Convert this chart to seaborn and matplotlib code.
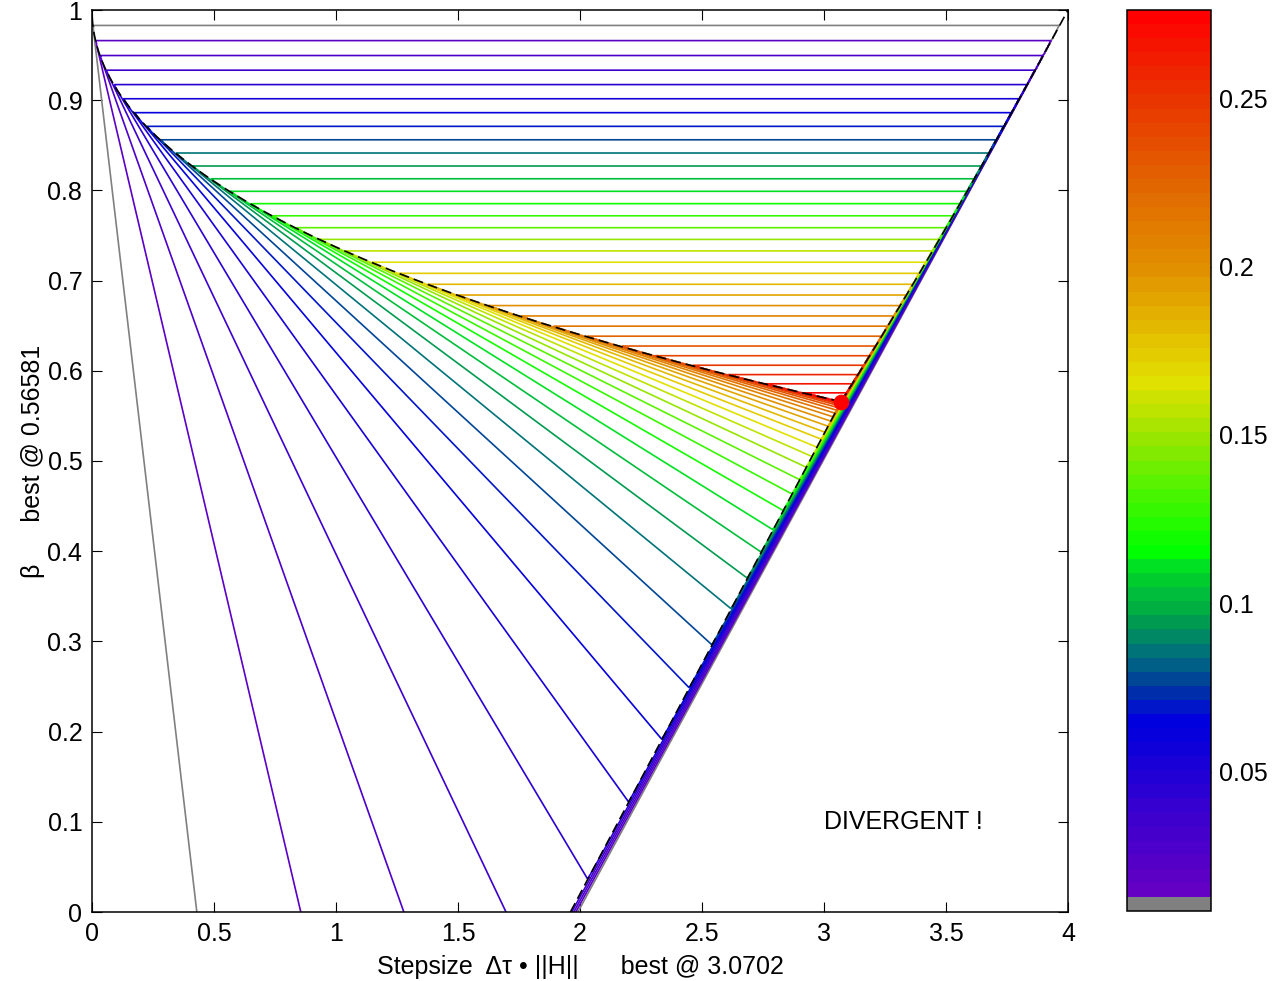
import numpy as np
import matplotlib
matplotlib.use("Agg")
import matplotlib.pyplot as plt
from matplotlib.colors import ListedColormap, Normalize
from matplotlib.cm import ScalarMappable
import seaborn as sns
import pandas as pd

# ---------------- data ----------------
mu_over_L = 0.02            # spectrum ratio of H (gives best @ 3.0702 / 0.56581)
best_step = 3.0702
best_beta = 0.56581
level_first = 0.00863       # lowest contour level (grey)
level_last = 0.2762         # highest contour level (red)
n_levels = 32

x_ticks = [0, 0.5, 1, 1.5, 2, 2.5, 3, 3.5, 4]
x_tick_labels = ["0", "0.5", "1", "1.5", "2", "2.5", "3", "3.5", "4"]
y_ticks = [0, 0.1, 0.2, 0.3, 0.4, 0.5, 0.6, 0.7, 0.8, 0.9, 1.0]
y_tick_labels = ["0", "0.1", "0.2", "0.3", "0.4", "0.5", "0.6", "0.7", "0.8", "0.9", "1"]
cbar_ticks = [0.05, 0.1, 0.15, 0.2, 0.25]
cbar_tick_labels = ["0.05", "0.1", "0.15", "0.2", "0.25"]

# colormap (64 bands): anchor band index -> rgb
cmap_anchor_idx = [1, 6, 12, 13, 14, 15, 16, 17, 18, 19, 20, 21, 22, 23, 24, 25,
                   30, 33, 37, 40, 45, 50, 55, 58, 61, 63]
cmap_anchor_rgb = [(100, 0, 195), (62, 0, 205), (5, 0, 220), (0, 0, 222), (0, 22, 200),
                   (0, 45, 170), (0, 70, 150), (0, 95, 135), (0, 115, 120), (0, 135, 100),
                   (0, 155, 80), (0, 175, 65), (0, 190, 60), (0, 205, 45), (0, 225, 35),
                   (0, 255, 0), (90, 242, 0), (150, 230, 0), (225, 225, 0), (228, 195, 0),
                   (225, 145, 0), (225, 110, 0), (230, 70, 0), (235, 45, 0), (245, 20, 0),
                   (255, 0, 0)]
grey_band = (128, 128, 128)

x_label = "Stepsize  \u0394\u03c4 \u2022 ||H||      best @ 3.0702"
y_label = "\u03b2      best @ 0.56581"
note_text = "DIVERGENT !"

# ---------------- build colormap ----------------
idx = np.arange(1, 64)
rgb = np.array(cmap_anchor_rgb, dtype=float)
cols = np.stack([np.interp(idx, cmap_anchor_idx, rgb[:, c]) for c in range(3)], axis=1)
cols = np.vstack([np.array(grey_band, dtype=float)[None, :], cols]) / 255.0
cmap = ListedColormap(cols)
norm = Normalize(vmin=level_first, vmax=level_last)
levels = np.linspace(level_first, level_last, n_levels)

# ---------------- field: asymptotic rate of heavy-ball iteration ----------------
def spectral_radius(x, b, s):
    c = 1.0 + b - x * s
    disc = c * c - 4.0 * b
    real = (np.abs(c) + np.sqrt(np.maximum(disc, 0.0))) / 2.0
    return np.where(disc < 0, np.sqrt(b), real)

xs = np.linspace(0, 4, 1201)
bs = np.linspace(0, 1, 901)
X, B = np.meshgrid(xs, bs)
rho = np.maximum(spectral_radius(X, B, mu_over_L), spectral_radius(X, B, 1.0))
Z = np.maximum(-np.log(np.maximum(rho, 1e-12)), 0.0)

# ridge / plateau boundary (dashed)
r = mu_over_L
b_up = np.linspace(best_beta, 1.0, 300)
left_x = (1 - np.sqrt(b_up)) ** 2 / r
right_x = (1 + np.sqrt(b_up)) ** 2
b_lo = np.linspace(0.0, best_beta, 300)
kap = (1 - r) / (1 + r)
q = (kap * (1 + b_lo) + np.sqrt(np.maximum(kap ** 2 * (1 + b_lo) ** 2 - 4 * b_lo, 0))) / 2
low_x = (1 + q) * (1 + b_lo / q)
ridge_low = pd.DataFrame({"x": low_x, "b": b_lo})

# ---------------- figure ----------------
sns.set_theme(style="white")
plt.rcParams["font.family"] = ["Liberation Sans", "DejaVu Sans"]
plt.rcParams["font.size"] = 18
plt.rcParams["text.color"] = "black"
plt.rcParams["axes.labelcolor"] = "black"
plt.rcParams["xtick.color"] = "black"
plt.rcParams["ytick.color"] = "black"

FS = 18
W, H = 1275, 981
fig = plt.figure(figsize=(W / 100, H / 100), dpi=100)
ax = fig.add_axes([92 / W, (H - 912) / H, 976 / W, 902 / H])
cax = fig.add_axes([1127 / W, (H - 911) / H, 84 / W, 901 / H])

ax.contour(X, B, Z, levels=levels, cmap=cmap, norm=norm, linewidths=1.2, zorder=2)

# dashed lines: plateau boundaries and ridge
ax.plot(left_x, b_up, color="black", lw=1.2, dashes=(6, 3), zorder=3)
ax.plot(right_x, b_up, color="black", lw=1.2, dashes=(6, 3), zorder=3)
sns.lineplot(data=ridge_low, x="x", y="b", estimator=None, sort=False, ax=ax,
             color="black", lw=1.2, zorder=3).lines[-1].set_dashes((6, 3))

sns.scatterplot(x=[best_step], y=[best_beta], ax=ax, color="red", s=110,
                edgecolor="red", zorder=4, legend=False)

ax.text(3.0, 0.1, note_text, ha="left", va="center", fontsize=FS, color="black")

ax.set_xlim(0, 4)
ax.set_ylim(0, 1)
ax.set_xticks(x_ticks)
ax.set_xticklabels(x_tick_labels)
ax.set_yticks(y_ticks)
ax.set_yticklabels(y_tick_labels)
ax.tick_params(direction="in", length=7, width=0.8, top=True, right=True,
               bottom=True, left=True, labelsize=FS, pad=7, colors="black")
for sp in ax.spines.values():
    sp.set_color("black")
    sp.set_linewidth(1.1)
ax.set_xlabel(x_label, fontsize=FS, labelpad=7, color="black")
ax.set_ylabel(y_label, fontsize=FS, labelpad=2, color="black")
ax.set_facecolor("white")

cb = fig.colorbar(ScalarMappable(norm=norm, cmap=cmap), cax=cax)
cb.set_ticks(cbar_ticks)
cb.set_ticklabels(cbar_tick_labels)
cax.tick_params(direction="in", length=6, width=0.8, left=True, right=True,
                labelsize=FS, pad=6, colors="black")
cb.outline.set_edgecolor("black")
cb.outline.set_linewidth(1.1)

fig.savefig("out.png", dpi=100, facecolor="white")
